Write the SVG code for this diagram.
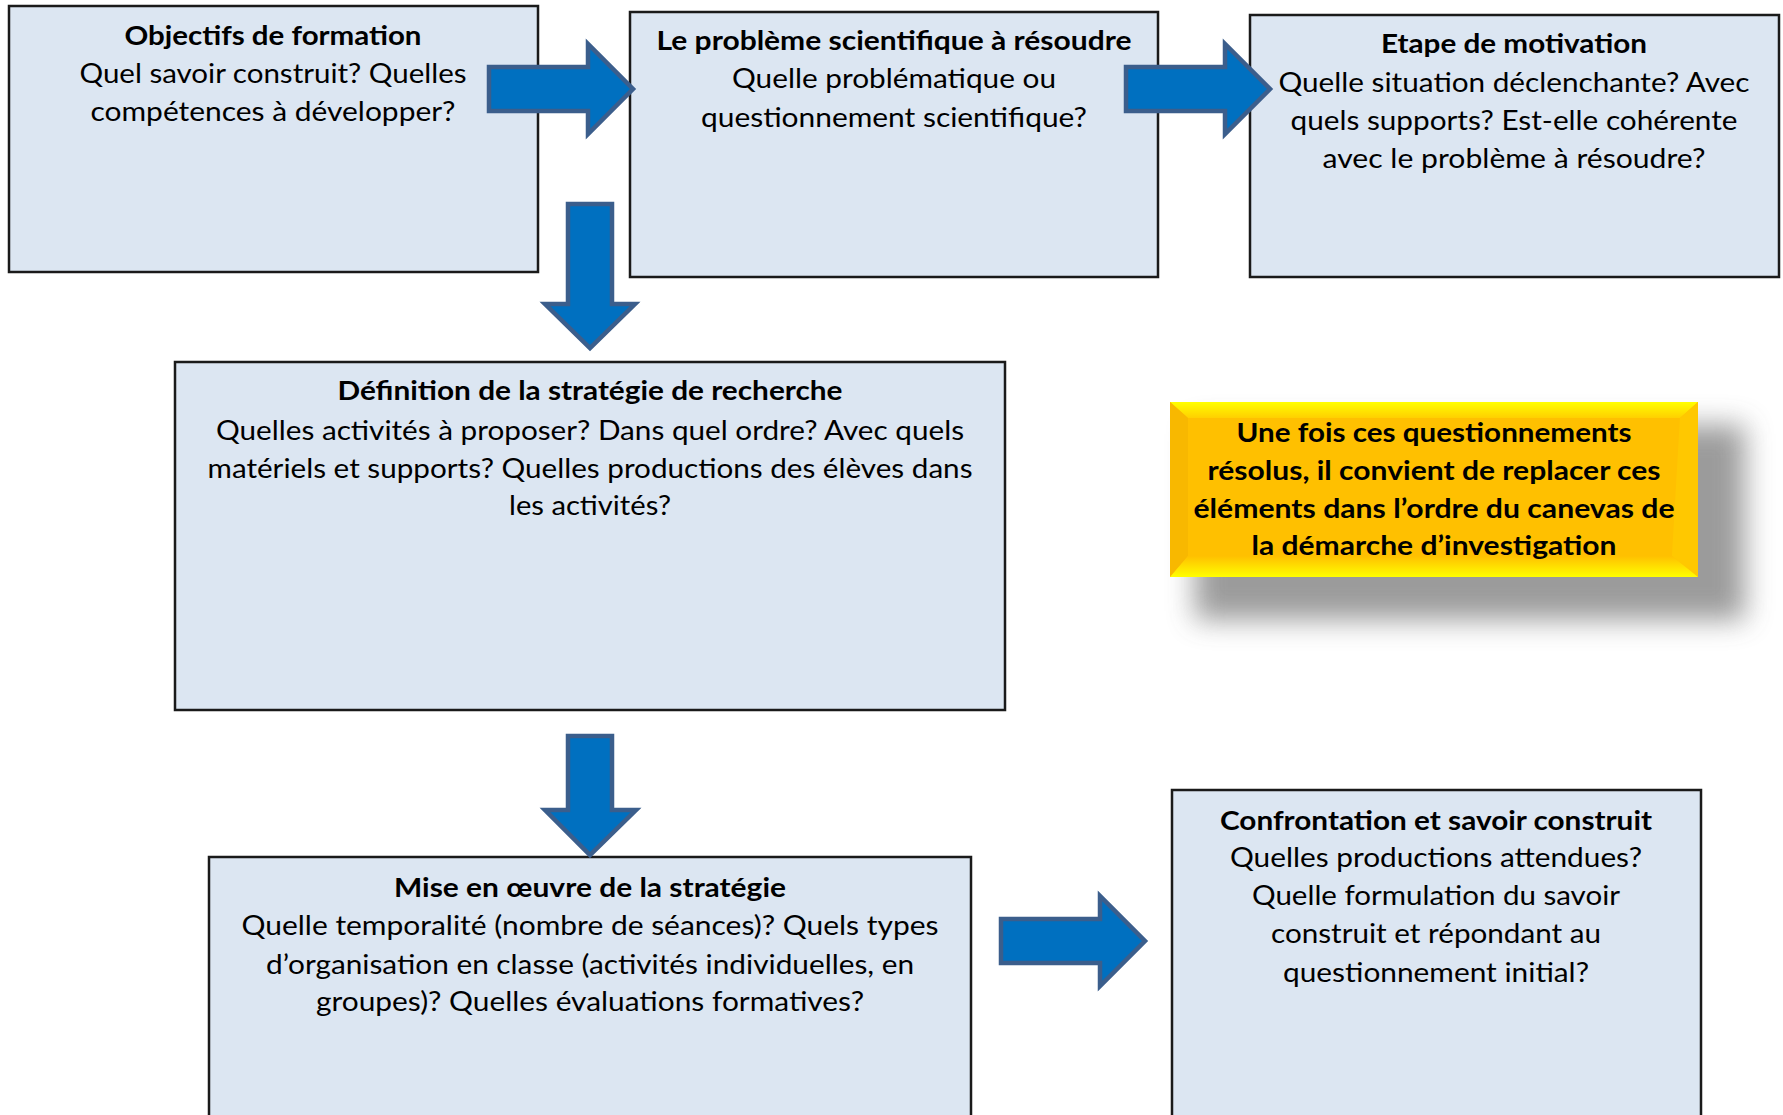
<svg xmlns="http://www.w3.org/2000/svg" width="1783" height="1115" viewBox="0 0 1783 1115">
<style>
.box{fill:#DCE6F2;stroke:#1a1a1a;stroke-width:2.5}
.arr{fill:#0070C0;stroke:#3B5E8C;stroke-width:4.5;stroke-linejoin:miter}
text{font-family:Lato,"Liberation Sans",sans-serif;fill:#000;text-anchor:middle}
.t{font-weight:bold;font-size:26px}
.b{font-size:26px}
.y{font-weight:bold;font-size:26px}
</style>
<defs>
<filter id="blur" x="-20%" y="-40%" width="140%" height="180%"><feGaussianBlur stdDeviation="14"/></filter>
<linearGradient id="topG" x1="0" y1="0" x2="0" y2="1"><stop offset="0" stop-color="#FFFF00"/><stop offset="1" stop-color="#FFD000"/></linearGradient>
<linearGradient id="botG" x1="0" y1="0" x2="0" y2="1"><stop offset="0" stop-color="#FFC000"/><stop offset="1" stop-color="#FFFF00"/></linearGradient>
</defs>
<rect width="1783" height="1115" fill="#fff"/>

<g id="objectifs">
<rect class="box" x="9" y="6" width="529" height="266"/>
<text class="t" x="273" y="45" textLength="297" lengthAdjust="spacingAndGlyphs">Objectifs de formation</text>
<text class="b" x="273" y="83" textLength="387" lengthAdjust="spacingAndGlyphs">Quel savoir construit? Quelles</text>
<text class="b" x="273" y="121" textLength="365" lengthAdjust="spacingAndGlyphs">compétences à développer?</text>
</g>

<g id="probleme">
<rect class="box" x="630" y="12" width="528" height="265"/>
<text class="t" x="894" y="50" textLength="475" lengthAdjust="spacingAndGlyphs">Le problème scientifique à résoudre</text>
<text class="b" x="894" y="88" textLength="324" lengthAdjust="spacingAndGlyphs">Quelle problématique ou</text>
<text class="b" x="894" y="127" textLength="386" lengthAdjust="spacingAndGlyphs">questionnement scientifique?</text>
</g>

<g id="motivation">
<rect class="box" x="1250" y="15" width="529" height="262"/>
<text class="t" x="1514" y="53" textLength="266" lengthAdjust="spacingAndGlyphs">Etape de motivation</text>
<text class="b" x="1514" y="92" textLength="471" lengthAdjust="spacingAndGlyphs">Quelle situation déclenchante? Avec</text>
<text class="b" x="1514" y="130" textLength="447" lengthAdjust="spacingAndGlyphs">quels supports? Est-elle cohérente</text>
<text class="b" x="1514" y="168" textLength="383" lengthAdjust="spacingAndGlyphs">avec le problème à résoudre?</text>
</g>

<g id="strategie">
<rect class="box" x="175" y="362" width="830" height="348"/>
<text class="t" x="590" y="400" textLength="505" lengthAdjust="spacingAndGlyphs">Définition de la stratégie de recherche</text>
<text class="b" x="590" y="440" textLength="748" lengthAdjust="spacingAndGlyphs">Quelles activités à proposer? Dans quel ordre? Avec quels</text>
<text class="b" x="590" y="478" textLength="765" lengthAdjust="spacingAndGlyphs">matériels et supports? Quelles productions des élèves dans</text>
<text class="b" x="590" y="515" textLength="162" lengthAdjust="spacingAndGlyphs">les activités?</text>
</g>

<g id="note">
<rect x="1195" y="425" width="550" height="195" fill="#8a8a8a" opacity="0.85" filter="url(#blur)"/>
<rect x="1170" y="402" width="528" height="175" fill="#FFC000"/>
<polygon points="1170,402 1698,402 1680,418 1188,418" fill="url(#topG)"/>
<polygon points="1170,402 1188,418 1188,556 1170,577" fill="#F8B800"/>
<polygon points="1698,402 1680,418 1672,556 1698,577" fill="#FFC800"/>
<polygon points="1170,577 1188,556 1672,556 1698,577" fill="url(#botG)"/>
<text class="y" x="1434" y="442" textLength="395" lengthAdjust="spacingAndGlyphs">Une fois ces questionnements</text>
<text class="y" x="1434" y="480" textLength="453" lengthAdjust="spacingAndGlyphs">résolus, il convient de replacer ces</text>
<text class="y" x="1434" y="518" textLength="481" lengthAdjust="spacingAndGlyphs">éléments dans l’ordre du canevas de</text>
<text class="y" x="1434" y="555" textLength="365" lengthAdjust="spacingAndGlyphs">la démarche d’investigation</text>
</g>

<g id="mise-en-oeuvre">
<rect class="box" x="209" y="857" width="762" height="280"/>
<text class="t" x="590" y="897" textLength="392" lengthAdjust="spacingAndGlyphs">Mise en œuvre de la stratégie</text>
<text class="b" x="590" y="935" textLength="697" lengthAdjust="spacingAndGlyphs">Quelle temporalité (nombre de séances)? Quels types</text>
<text class="b" x="590" y="974" textLength="648" lengthAdjust="spacingAndGlyphs">d’organisation en classe (activités individuelles, en</text>
<text class="b" x="590" y="1011" textLength="548" lengthAdjust="spacingAndGlyphs">groupes)? Quelles évaluations formatives?</text>
</g>

<g id="confrontation">
<rect class="box" x="1172" y="790" width="529" height="350"/>
<text class="t" x="1436" y="830" textLength="432" lengthAdjust="spacingAndGlyphs">Confrontation et savoir construit</text>
<text class="b" x="1436" y="867" textLength="412" lengthAdjust="spacingAndGlyphs">Quelles productions attendues?</text>
<text class="b" x="1436" y="905" textLength="368" lengthAdjust="spacingAndGlyphs">Quelle formulation du savoir</text>
<text class="b" x="1436" y="943" textLength="330" lengthAdjust="spacingAndGlyphs">construit et répondant au</text>
<text class="b" x="1436" y="982" textLength="306" lengthAdjust="spacingAndGlyphs">questionnement initial?</text>
</g>

<g id="connectors">
<polygon class="arr" points="489,67 588,67 588,44 633,89 588,134 588,111 489,111"/>
<polygon class="arr" points="1126,67 1225,67 1225,44 1270,89 1225,134 1225,111 1126,111"/>
<polygon class="arr" points="568,204 612,204 612,304 635,304 590,348 545,304 568,304"/>
<polygon class="arr" points="568,736 612,736 612,810 636,810 590,855 545,810 568,810"/>
<polygon class="arr" points="1001,919 1100,919 1100,896 1145,941 1100,986 1100,963 1001,963"/>
</g>
</svg>
